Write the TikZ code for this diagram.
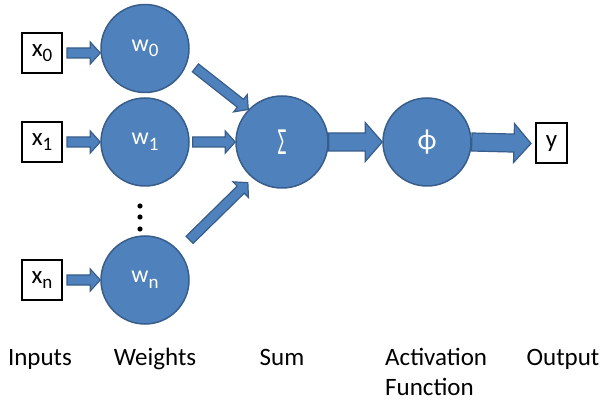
\documentclass[tikz,border=0pt]{standalone}
\usepackage{fontspec}
\setmainfont{Carlito}
\usetikzlibrary{calc,positioning}
\definecolor{nodeblue}{HTML}{4F81BD}
\definecolor{edgeblue}{HTML}{385D8A}
\newcommand{\low}[1]{\raisebox{-5.5pt}{\fontsize{19}{19}\selectfont#1}}
\tikzset{
  neuron/.style={circle,draw=edgeblue,fill=nodeblue,line width=1.5pt,minimum size=88pt,inner sep=0pt,text=white,font=\fontsize{24}{28}\selectfont},
  inbox/.style={draw=black,fill=white,line width=2pt,minimum width=40pt,minimum height=40pt,inner sep=0pt,font=\fontsize{25}{30}\selectfont},
  caption/.style={anchor=base,inner sep=0pt,font=\fontsize{25}{30}\selectfont},
  blockarrow/.style={draw=edgeblue,fill=nodeblue,line width=1.2pt,line join=miter,
    to path={let \p1=(\tikztostart),\p2=(\tikztotarget),
      \n1={atan2(\y2-\y1,\x2-\x1)},\n2={veclen(\x2-\x1,\y2-\y1)} in
      [shift={(\p1)},rotate=\n1]
      (0pt,-\shafthw) -- ({\n2-\headlen},-\shafthw) -- ({\n2-\headlen},-\headhw)
      -- (\n2,0pt) -- ({\n2-\headlen},\headhw) -- ({\n2-\headlen},\shafthw)
      -- (0pt,\shafthw) -- cycle}},
  thinarrow/.style={blockarrow,/utils/exec={\def\shafthw{5pt}\def\headhw{11pt}\def\headlen{10pt}}},
  widearrow/.style={blockarrow,/utils/exec={\def\shafthw{9pt}\def\headhw{19.5pt}\def\headlen{17pt}}}
}
\begin{document}
\begin{tikzpicture}[x=1pt,y=-1pt]
  \useasboundingbox (0,0) rectangle (602,403);
  % weights, sum and activation
  \node[neuron] (w0) at (145,48.5) {w\low{0}};
  \node[neuron] (w1) at (145,142) {w\low{1}};
  \node[neuron] (wn) at (145,280) {w\low{n}};
  \node[neuron,minimum size=92pt] (sum) at (282,142) {\raisebox{-3pt}{\scalebox{0.8}[1.6]{Σ}}};
  \node[neuron,font=\fontsize{29}{30}\selectfont] (act) at (427,142) {ϕ};
  % inputs and output
  \node[inbox] (x0) at (42,53) {x\low{0}};
  \node[inbox] (x1) at (42,142) {x\low{1}};
  \node[inbox] (xn) at (42,280) {x\low{n}};
  \node[inbox,minimum width=31pt] (y) at (551.5,143.5) {y};
  \foreach \dy in {206,217,229}
    \fill (140,\dy) circle (2.6pt);
  % arrows
  \draw[thinarrow] ([xshift=4pt]x0.east) to (x0.east -| w0.west);
  \draw[thinarrow] ([xshift=4pt]x1.east) to (w1.west);
  \draw[thinarrow] ([xshift=4pt]xn.east) to (wn.west);
  \draw[thinarrow] ([shift={(-21:54pt)}]w0.center) to (sum.136);
  \draw[thinarrow] ([xshift=3pt]w1.east) to (sum.west);
  \draw[thinarrow] ([shift={(42:60pt)}]wn.center) to ([shift={(230:53pt)}]sum.center);
  \draw[widearrow] (sum.east) to (act.west);
  \draw[widearrow] (act.east) to ([xshift=-4pt]y.west);
  % captions
  \node[caption] (lin) at (40,365) {Inputs};
  \node[caption] (lwt) at (155,365) {Weights};
  \node[caption] (lsum) at (282,365) {Sum};
  \node[caption,anchor=base west,align=left] (lact) at (385,395) {Activation\\Function};
  \node[caption] (lout) at (563,365) {Output};
\end{tikzpicture}
\end{document}
